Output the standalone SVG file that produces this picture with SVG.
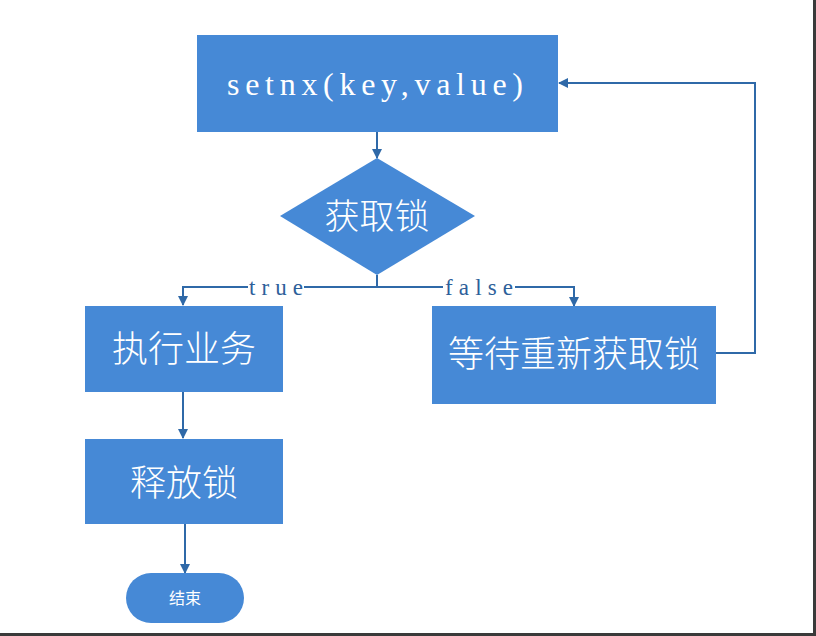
<svg xmlns="http://www.w3.org/2000/svg" width="816" height="636" viewBox="0 0 816 636">
<style>
.box{fill:#4689d6}
.cn{font-family:"Noto Sans CJK SC",sans-serif;fill:#fff;text-anchor:middle;font-weight:300}
.ser{font-family:"Liberation Serif",serif;text-anchor:middle}
.ln{fill:none;stroke:#2f69a8;stroke-width:2}
.lbl{font-family:"Liberation Serif",serif;font-size:23px;fill:#2d5f9a;text-anchor:middle}
</style>
<defs>
<marker id="arr" viewBox="0 0 10 10" refX="9" refY="5" markerWidth="10" markerHeight="10" markerUnits="userSpaceOnUse" orient="auto">
<path d="M0,0 L10,5 L0,10 Z" fill="#2f69a8"/>
</marker>
</defs>
<rect width="816" height="636" fill="#fff"/>
<g id="connectors">
<path class="ln" d="M377,132 V158" marker-end="url(#arr)"/>
<path class="ln" d="M377,275 V287 H183 V305" marker-end="url(#arr)"/>
<path class="ln" d="M377,287 H574 V306" marker-end="url(#arr)"/>
<path class="ln" d="M716,353 H755 V83 H559" marker-end="url(#arr)"/>
<path class="ln" d="M183,392 V438" marker-end="url(#arr)"/>
<path class="ln" d="M185,524 V573" marker-end="url(#arr)"/>
<rect x="248" y="277" width="56" height="20" fill="#fff"/>
<rect x="443" y="277" width="72" height="20" fill="#fff"/>
<text class="lbl" x="276" y="295" textLength="54" lengthAdjust="spacing">true</text>
<text class="lbl" x="479" y="295" textLength="68" lengthAdjust="spacing">false</text>
</g>
<g id="setnx">
<rect class="box" x="197" y="35" width="361" height="97"/>
<text class="ser" x="375" y="95" font-size="32" fill="#fff" textLength="296" lengthAdjust="spacing">setnx(key,value)</text>
</g>
<g id="acquire">
<polygon class="box" points="377,158 475,216 377,275 280,216"/>
<text class="cn" x="377" y="229" font-size="35">获取锁</text>
</g>
<g id="execute">
<rect class="box" x="85" y="306" width="198" height="86"/>
<text class="cn" x="184" y="362" font-size="36">执行业务</text>
</g>
<g id="wait">
<rect class="box" x="432" y="306" width="284" height="98"/>
<text class="cn" x="574" y="367" font-size="36">等待重新获取锁</text>
</g>
<g id="release">
<rect class="box" x="85" y="439" width="198" height="85"/>
<text class="cn" x="184" y="496" font-size="36">释放锁</text>
</g>
<g id="end">
<rect class="box" x="126" y="573" width="118" height="50" rx="25"/>
<text class="cn" x="185" y="604" font-size="16" style="font-weight:400">结束</text>
</g>
<rect x="813" y="0" width="3" height="636" fill="#3a3a3a"/>
<rect x="0" y="633" width="816" height="3" fill="#3a3a3a"/>
</svg>
